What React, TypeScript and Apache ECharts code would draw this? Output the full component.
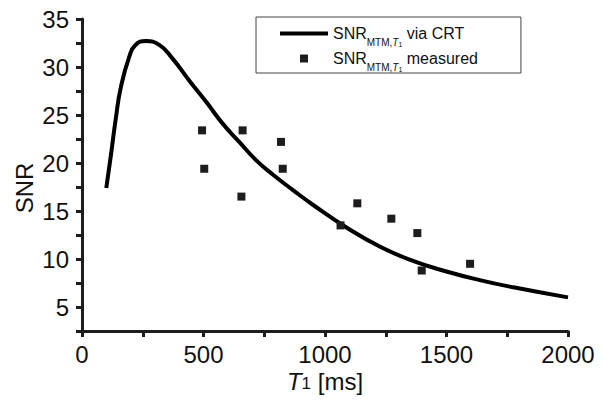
import React, { useEffect, useRef } from 'react';
import * as echarts from 'echarts';

// Theoretical curve
const curveT1 = [100, 120, 140, 160, 195, 220, 263, 318, 372, 441, 510, 579, 647, 716, 785, 867, 950, 1087, 1225, 1362, 1500, 1637, 1775, 2000];
const curveSNR = [17.4, 21.0, 24.8, 27.9, 31.1, 32.3, 32.7, 32.3, 30.9, 28.6, 26.4, 24.1, 22.2, 20.3, 18.8, 17.2, 15.65, 13.3, 11.3, 9.8, 8.7, 7.8, 7.05, 6.0];

// Measured points
const measuredT1 = [494, 503, 661, 656, 819, 826, 1064, 1133, 1273, 1380, 1398, 1597];
const measuredSNR = [23.4, 19.4, 23.4, 16.5, 22.2, 19.4, 13.5, 15.8, 14.2, 12.7, 8.8, 9.5];

// Axes
const xMin = 0;
const xMax = 2000;
const xInterval = 500;
const xTicks = [0, 250, 500, 750, 1000, 1250, 1500, 1750, 2000];
const yMin = 2.5;
const yMax = 35;
const yLabels = [5, 10, 15, 20, 25, 30, 35];
const yTicks = [2.5, 5, 7.5, 10, 12.5, 15, 17.5, 20, 22.5, 25, 27.5, 30, 32.5, 35];

const seriesNames = ['crt', 'measured'];

const FONT = '"Liberation Sans", Arial, Helvetica, sans-serif';
const INK = '#1e1c1d';

export default function App() {
  const ref = useRef<HTMLDivElement>(null);

  useEffect(() => {
    if (!ref.current) return;
    const chart = echarts.init(ref.current, null, { renderer: 'svg' });

    const curveData = curveT1.map((t, i) => [t, curveSNR[i]]);
    const measData = measuredT1.map((t, i) => [t, measuredSNR[i]]);

    const legendRich = {
      a: { fontSize: 16, lineHeight: 28, color: '#111', fontFamily: FONT },
      s: { fontSize: 10, lineHeight: 1, padding: [18, 0, 0, 0], color: '#111', fontFamily: FONT },
      si: { fontSize: 10, lineHeight: 1, padding: [18, 0, 0, 0], color: '#111', fontFamily: FONT, fontStyle: 'italic' },
      ss: { fontSize: 7, lineHeight: 1, padding: [22, 0, 0, 0], color: '#111', fontFamily: FONT },
    };

    const option: any = {
      animation: false,
      backgroundColor: '#fff',
      grid: { left: 82, right: 36, top: 19, bottom: 69, outerBoundsMode: 'none' },
      xAxis: {
        type: 'value',
        min: xMin,
        max: xMax,
        interval: xInterval,
        axisLine: { show: true, lineStyle: { color: INK, width: 3 } },
        axisTick: { show: true, inside: false, length: 6, customValues: xTicks, lineStyle: { color: INK, width: 3 } },
        axisLabel: { fontSize: 24, margin: 11, color: '#111', fontFamily: FONT, formatter: (v: number) => String(v) },
        splitLine: { show: false },
      },
      yAxis: {
        type: 'value',
        min: yMin,
        max: yMax,
        axisLine: { show: true, lineStyle: { color: INK, width: 3 } },
        axisTick: { show: true, inside: false, length: 6, customValues: yTicks, lineStyle: { color: INK, width: 3 } },
        axisLabel: { fontSize: 24, margin: 13, color: '#111', fontFamily: FONT, customValues: yLabels },
        splitLine: { show: false },
      },
      graphic: [
        {
          type: 'text',
          x: 325,
          y: 381,
          style: {
            text: '{i|T}{sub|1}{n| [ms]}',
            align: 'center',
            verticalAlign: 'middle',
            rich: {
              i: { fontSize: 24, lineHeight: 28, fontStyle: 'italic', fill: '#111', fontFamily: FONT },
              sub: { fontSize: 17, lineHeight: 1, padding: [4, 0, 0, 0], fill: '#111', fontFamily: FONT },
              n: { fontSize: 24, lineHeight: 28, fill: '#111', fontFamily: FONT },
            },
          },
        },
        {
          type: 'text',
          x: 24,
          y: 188,
          rotation: Math.PI / 2,
          style: {
            text: 'SNR',
            fontSize: 24,
            fontFamily: FONT,
            fill: '#111',
            align: 'center',
            verticalAlign: 'middle',
          },
        },
      ],
      legend: {
        orient: 'vertical',
        left: 256,
        top: 17,
        padding: [2, 43, 0, 24],
        itemGap: -4,
        itemWidth: 48,
        itemHeight: 8,
        borderColor: '#444',
        borderWidth: 1,
        selectedMode: false,
        data: [
          { name: seriesNames[0], icon: 'path://M0,0h48v4h-48z' },
          { name: seriesNames[1], icon: 'path://M0,0h8v8h-8z' },
        ],
        formatter: (name: string) =>
          name === seriesNames[0]
            ? '{a|SNR}{s|MTM,}{si|T}{ss|1}{a| via CRT}'
            : '{a|SNR}{s|MTM,}{si|T}{ss|1}{a| measured}',
        textStyle: { rich: legendRich },
      },
      series: [
        {
          name: seriesNames[0],
          type: 'line',
          data: curveData,
          smooth: 0.5,
          showSymbol: false,
          symbol: 'none',
          color: '#000',
          lineStyle: { color: '#000', width: 4 },
          z: 2,
        },
        {
          name: seriesNames[1],
          type: 'scatter',
          data: measData,
          symbol: 'rect',
          symbolSize: 8,
          color: INK,
          itemStyle: { color: INK, opacity: 1 },
          z: 3,
        },
      ],
    };

    chart.setOption(option);
    return () => chart.dispose();
  }, []);

  return (
    <div
      ref={ref}
      style={{ position: 'fixed', left: 0, top: 0, width: 604, height: 400, background: '#fff' }}
    />
  );
}
